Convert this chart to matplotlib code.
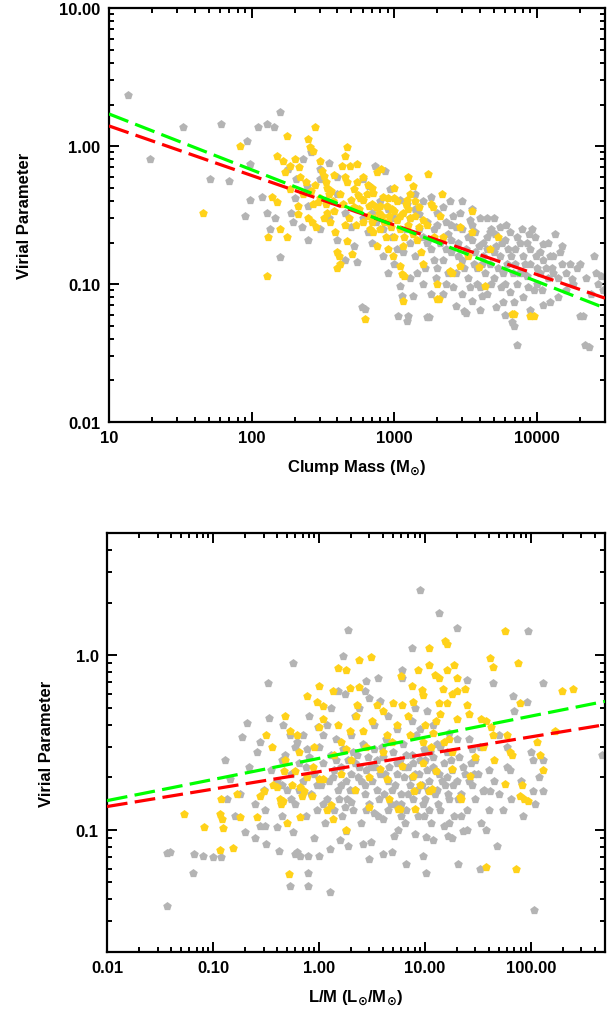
import numpy as np
import matplotlib
matplotlib.use("Agg")
import matplotlib.pyplot as plt
from matplotlib.ticker import FixedLocator, FixedFormatter, LogLocator, NullFormatter

plt.rcParams['font.family'] = ['Liberation Sans', 'DejaVu Sans']
plt.rcParams['font.weight'] = 'bold'
plt.rcParams['mathtext.default'] = 'bf'

# ---- top panel: clump mass vs virial parameter ----
top_gray = [(13.6, 2.34), (19.4, 0.80), (33, 1.37), (51, 0.58), (61, 1.44), (69, 0.56),
            (90, 0.31), (93, 1.09), (97, 0.74), (97, 0.41), (111, 1.37), (118, 0.43),
            (128, 1.44), (128, 0.33), (135, 0.25), (143, 1.37), (145, 0.30), (158, 1.76),
            (158, 0.157), (180, 0.68), (190, 0.33), (195, 0.28), (205, 0.58), (225, 0.26),
            (245, 0.51), (250, 0.21), (300, 0.68), (300, 0.58), (330, 0.41), (400, 0.21),
            (450, 0.15), (520, 0.19), (545, 0.145), (590, 0.068), (600, 0.58), (620, 0.066),
            (670, 0.51), (700, 0.20), (730, 0.72), (830, 0.25), (830, 0.16), (860, 0.66),
            (940, 0.49), (960, 0.22), (1050, 0.18), (1070, 0.059), (1100, 0.41), (1100, 0.097),
            (1130, 0.082), (1220, 0.054), (1250, 0.059), (1350, 0.082), (1220, 0.38), (1300, 0.30),
            (1400, 0.35), (1500, 0.25), (1700, 0.058), (1750, 0.058),
            (1300, 0.20), (1400, 0.16), (1450, 0.12), (1500, 0.32), (1600, 0.22), (1650, 0.13),
            (1700, 0.28), (1800, 0.43), (1800, 0.18), (1900, 0.25), (1950, 0.11), (2000, 0.33),
            (2100, 0.20), (2200, 0.085), (2200, 0.15), (2300, 0.28), (2400, 0.23), (2450, 0.40),
            (2500, 0.17), (2600, 0.31), (2700, 0.069), (2700, 0.12), (2800, 0.20), (2900, 0.33),
            (3000, 0.25), (3000, 0.15), (3100, 0.064), (3200, 0.062), (3200, 0.18), (3300, 0.11),
            (3400, 0.29), (3500, 0.21), (3600, 0.14), (3700, 0.24), (3800, 0.10), (3900, 0.19),
            (4000, 0.30), (4100, 0.082), (4200, 0.16), (4300, 0.12), (4500, 0.30), (4500, 0.22),
            (4700, 0.14), (4800, 0.25), (5000, 0.11), (5200, 0.068), (5200, 0.19), (5500, 0.26),
            (5500, 0.16), (5800, 0.074), (5800, 0.12), (6000, 0.21), (6200, 0.14), (6500, 0.24),
            (6500, 0.087), (6700, 0.053), (6900, 0.074), (6900, 0.050), (7000, 0.18), (7300, 0.22),
            (7300, 0.036), (7500, 0.12), (8000, 0.16), (8500, 0.114), (8500, 0.20), (9000, 0.14),
            (9300, 0.25), (9700, 0.22), (10000, 0.10), (10500, 0.17), (11000, 0.195), (11500, 0.13),
            (12300, 0.16), (12300, 0.074), (13000, 0.16), (13500, 0.23), (14000, 0.11), (15000, 0.14),
            (16000, 0.09), (17600, 0.108), (19000, 0.13), (20000, 0.059), (21000, 0.059),
            (21700, 0.036), (23000, 0.035), (25000, 0.16), (26000, 0.12), (28000, 0.114), (29000, 0.09),
            (2500, 0.27), (3500, 0.35), (1600, 0.40), (2000, 0.13), (2600, 0.095), (3000, 0.085),
            (4000, 0.095), (4500, 0.085), (5000, 0.30), (1200, 0.25), (1000, 0.30), (900, 0.35),
            (800, 0.40), (700, 0.33), (600, 0.30), (500, 0.26), (550, 0.35), (650, 0.24), (750, 0.28),
            (1000, 0.14), (900, 0.12), (1150, 0.17), (1300, 0.11), (1600, 0.10), (1800, 0.085),
            (2300, 0.10), (3500, 0.075), (4000, 0.065), (6000, 0.06), (8000, 0.08), (9000, 0.065),
            (11000, 0.07), (14000, 0.08), (15000, 0.19), (3000, 0.40), (2200, 0.36), (1400, 0.45),
            (400, 0.45), (350, 0.30), (250, 0.37), (200, 0.42), (300, 0.25), (450, 0.33), (230, 0.80),
            (260, 0.90), (400, 0.60), (350, 0.75),
            (5000, 0.17), (6000, 0.10), (7000, 0.14), (8000, 0.12), (9000, 0.18), (10000, 0.13),
            (11000, 0.15), (12000, 0.11), (13000, 0.12), (16000, 0.12), (18000, 0.10), (20000, 0.14),
            (22000, 0.11), (24000, 0.085), (2500, 0.21), (3500, 0.27), (4500, 0.18), (2000, 0.27),
            (1700, 0.20), (3800, 0.13), (4800, 0.10), (6300, 0.18), (7800, 0.25), (9500, 0.09),
            (10500, 0.12), (27000, 0.10),
            (2300, 0.18), (2800, 0.16), (3300, 0.22), (3700, 0.17), (4200, 0.20), (4700, 0.24),
            (5300, 0.13), (5700, 0.20), (6600, 0.16), (7200, 0.10), (7600, 0.20), (8300, 0.14),
            (8800, 0.23), (9800, 0.16), (10800, 0.09), (12700, 0.13), (14500, 0.17), (17000, 0.14),
            (2700, 0.26), (3100, 0.13), (4100, 0.14), (5100, 0.23), (6100, 0.27), (6800, 0.12),
            (1900, 0.15), (2400, 0.12), (3400, 0.095), (5600, 0.095), (8700, 0.095), (12000, 0.20)]

top_gold = [(46, 0.33), (83, 1.0), (128, 0.114), (130, 0.22), (140, 0.43), (150, 0.39),
            (150, 0.85), (158, 0.25), (165, 0.78), (172, 0.65), (178, 1.18), (178, 0.22), (185, 0.72),
            (187, 0.49), (200, 0.80), (210, 0.37), (210, 0.32), (215, 0.70), (220, 0.60), (250, 1.12),
            (258, 0.98), (250, 0.30), (265, 0.28), (270, 0.92), (278, 1.37), (285, 0.26), (290, 0.39),
            (300, 0.78), (310, 0.66), (320, 0.61), (330, 0.55), (340, 0.50), (340, 0.33), (355, 0.28),
            (360, 0.47), (385, 0.24), (400, 0.17), (400, 0.13), (410, 0.16), (420, 0.14), (430, 0.72),
            (450, 0.85), (465, 0.98), (465, 0.205), (470, 0.55), (490, 0.72), (505, 0.165), (520, 0.49),
            (550, 0.74), (560, 0.44), (570, 0.35), (600, 0.41), (620, 0.056), (640, 0.45), (650, 0.31),
            (700, 0.38), (710, 0.46), (710, 0.24), (720, 0.30), (760, 0.65), (760, 0.19), (780, 0.33),
            (810, 0.68), (830, 0.43), (850, 0.28), (890, 0.37), (920, 0.31), (950, 0.26), (980, 0.16),
            (1000, 0.34), (1050, 0.29), (1100, 0.135), (1100, 0.25), (1130, 0.118), (1150, 0.075),
            (1170, 0.114), (1200, 0.38), (1220, 0.41), (1250, 0.27), (1300, 0.45), (1350, 0.51),
            (1350, 0.23), (1400, 0.31), (1450, 0.21), (1500, 0.36), (1500, 0.26), (1550, 0.17),
            (1600, 0.14), (1600, 0.29), (1720, 0.63), (1800, 0.38), (1880, 0.36), (2000, 0.10),
            (2000, 0.078), (2050, 0.078), (2100, 0.31), (2160, 0.45), (2200, 0.22), (2450, 0.125),
            (2560, 0.12), (2900, 0.26), (2900, 0.135), (3300, 0.16), (3500, 0.34), (3500, 0.24),
            (3900, 0.133), (4300, 0.097), (4700, 0.18), (5300, 0.22), (6700, 0.061), (6900, 0.061),
            (8900, 0.059), (9500, 0.059),
            (240, 0.55), (260, 0.47), (280, 0.52), (300, 0.42), (330, 0.38), (370, 0.40), (380, 0.34),
            (420, 0.45), (440, 0.38), (480, 0.30), (520, 0.36), (540, 0.27), (580, 0.42), (600, 0.28),
            (660, 0.37), (680, 0.25), (740, 0.36), (800, 0.25), (820, 0.31), (880, 0.22), (900, 0.42),
            (960, 0.35), (1000, 0.22), (1050, 0.40), (1150, 0.33), (1180, 0.22), (1300, 0.30),
            (1400, 0.40), (1700, 0.27), (1900, 0.22), (1150, 0.19), (900, 0.18), (700, 0.50),
            (600, 0.60), (450, 0.60), (380, 0.62), (1000, 0.50), (1250, 0.60),
            (350, 0.45), (500, 0.41), (550, 0.55), (650, 0.52), (800, 0.37), (900, 0.28),
            (1000, 0.42), (1100, 0.31), (1250, 0.35), (450, 0.27), (700, 0.28), (230, 0.45),
            (270, 0.38), (320, 0.30)]

top_fit_x = [10, 30000]
top_fit_green = [1.71, 0.067]
top_fit_red = [1.40, 0.079]

# ---- bottom panel: L/M vs virial parameter ----
bot_gray = [(0.037, 0.0366), (0.037, 0.074), (0.039, 0.075), (0.065, 0.057), (0.066, 0.073),
            (0.08, 0.071), (0.10, 0.070), (0.135, 0.15), (0.13, 0.25), (0.145, 0.196), (0.19, 0.34),
            (0.20, 0.097), (0.21, 0.41), (0.26, 0.28), (0.28, 0.32), (0.31, 0.13), (0.31, 0.105),
            (0.32, 0.083), (0.33, 0.69), (0.34, 0.435), (0.40, 0.104), (0.42, 0.076), (0.46, 0.40),
            (0.48, 0.27), (0.53, 0.35), (0.53, 0.048), (0.57, 0.90), (0.57, 0.097), (0.60, 0.073),
            (0.62, 0.32), (0.62, 0.075), (0.66, 0.071), (0.77, 0.29), (0.79, 0.071), (0.79, 0.057),
            (0.79, 0.048), (0.98, 0.39), (1.0, 0.071), (1.1, 0.35), (1.27, 0.078),
            (1.27, 0.044), (1.5, 0.62), (1.58, 0.087), (1.7, 0.99), (1.75, 0.60),
            (1.87, 1.39), (1.87, 0.081), (2.6, 0.083), (2.7, 0.62), (2.8, 0.71), (3.0, 0.57),
            (3.0, 0.068), (3.6, 0.74), (4.0, 0.073), (4.9, 0.075), (6.1, 0.82),
            (6.1, 0.74), (6.6, 0.064), (7.6, 1.10), (9.0, 2.36), (9.6, 0.071), (10.2, 0.091),
            (10.2, 0.057), (13.7, 1.74), (16.5, 0.092), (20, 1.43), (20.6, 0.064),
            (23, 0.099), (25, 0.72), (33, 0.06), (35, 0.166), (38, 0.10), (41, 0.166), (44, 0.69),
            (48, 0.081), (59, 0.23), (64, 0.22), (68, 0.58), (70, 0.48), (92, 0.54),
            (94, 1.37), (104, 0.25), (104, 0.167), (107, 0.035), (130, 0.25), (130, 0.166), (130, 0.69),
            (470, 0.27),
            (0.35, 0.22), (0.4, 0.19), (0.45, 0.25), (0.5, 0.17), (0.55, 0.21), (0.6, 0.14), (0.65, 0.24),
            (0.7, 0.19), (0.75, 0.12), (0.8, 0.26), (0.85, 0.16), (0.9, 0.21), (0.95, 0.13), (1.0, 0.30),
            (1.05, 0.18), (1.1, 0.24), (1.15, 0.11), (1.2, 0.15), (1.3, 0.27), (1.35, 0.20), (1.4, 0.13),
            (1.45, 0.33), (1.5, 0.17), (1.6, 0.23), (1.65, 0.12), (1.7, 0.29), (1.8, 0.19), (1.85, 0.15),
            (1.9, 0.25), (2.0, 0.21), (2.0, 0.35), (2.1, 0.13), (2.2, 0.17), (2.3, 0.27), (2.4, 0.23),
            (2.5, 0.19), (2.5, 0.11), (2.6, 0.31), (2.7, 0.16), (2.8, 0.22), (2.9, 0.26), (3.0, 0.14),
            (3.2, 0.19), (3.3, 0.29), (3.4, 0.23), (3.5, 0.17), (3.6, 0.12), (3.8, 0.21), (4.0, 0.26),
            (4.1, 0.16), (4.3, 0.33), (4.5, 0.19), (4.6, 0.23), (4.8, 0.14), (5.0, 0.28), (5.2, 0.18),
            (5.4, 0.21), (5.6, 0.10), (5.8, 0.25), (6.0, 0.16), (6.2, 0.31), (6.4, 0.20), (6.7, 0.13),
            (7.0, 0.23), (7.2, 0.18), (7.5, 0.27), (7.8, 0.15), (8.0, 0.21), (8.3, 0.35), (8.6, 0.12),
            (9.0, 0.25), (9.3, 0.18), (9.7, 0.29), (10, 0.15), (10.5, 0.22), (11, 0.19), (11.5, 0.11),
            (12, 0.26), (12.5, 0.16), (13, 0.31), (13.5, 0.21), (14, 0.13), (15, 0.24), (15.5, 0.18),
            (16, 0.28), (17, 0.15), (18, 0.22), (19, 0.12), (20, 0.19), (21, 0.26), (22, 0.16),
            (24, 0.21), (25, 0.13), (27, 0.24), (28, 0.18), (30, 0.15), (32, 0.21), (34, 0.11),
            (36, 0.17), (40, 0.13), (45, 0.19), (0.25, 0.14), (0.3, 0.17), (0.22, 0.23), (0.18, 0.16),
            (0.16, 0.12), (0.28, 0.105), (1.2, 0.40), (2.2, 0.45), (3.3, 0.40), (5.5, 0.38), (7.5, 0.42),
            (12, 0.40), (17, 0.36), (26, 0.33), (33, 0.30), (3.1, 0.085), (5.1, 0.092), (8.0, 0.095),
            (12, 0.088), (18, 0.09), (1.8, 0.098), (0.9, 0.09), (0.45, 0.12), (2.0, 0.145), (4.0, 0.115),
            (6.5, 0.11), (15, 0.105), (25, 0.10), (2.4, 0.50), (1.3, 0.50), (0.8, 0.45), (3.8, 0.55),
            (8, 0.50), (4.5, 0.45), (10.5, 0.48), (50, 0.35), (60, 0.30), (55, 0.13), (80, 0.19),
            (85, 0.12), (110, 0.14), (120, 0.20), (0.12, 0.07), (0.25, 0.09), (0.6, 0.30), (0.7, 0.35),
            (9, 0.38), (14, 0.30), (20, 0.33), (30, 0.25), (40, 0.22), (28, 0.29), (50, 0.16), (65, 0.15),
            (100, 0.28), (1.1, 0.14), (1.6, 0.18), (2.8, 0.13), (4.5, 0.13), (6, 0.14), (8.5, 0.17),
            (11, 0.13), (13, 0.17), (16, 0.20), (22, 0.12), (3.5, 0.25), (5.5, 0.24), (7.5, 0.20),
            (10, 0.25), (12.5, 0.22), (2.2, 0.24), (1.4, 0.22), (0.75, 0.23), (0.45, 0.18), (0.55, 0.15),
            (1.25, 0.19), (1.55, 0.15), (1.95, 0.17), (2.35, 0.20), (2.75, 0.18), (3.1, 0.23),
            (3.7, 0.15), (4.2, 0.21), (4.9, 0.17), (5.3, 0.14), (6.3, 0.23), (6.9, 0.16), (7.7, 0.24),
            (8.8, 0.21), (9.5, 0.14), (10.8, 0.17), (11.8, 0.23), (13.2, 0.14), (14.5, 0.19),
            (16.5, 0.16), (18.5, 0.18), (20.5, 0.15), (23, 0.23), (26, 0.19), (29, 0.21), (2.1, 0.28),
            (3.9, 0.30), (6.6, 0.27), (11.2, 0.28), (17.5, 0.25), (1.45, 0.25), (0.95, 0.18),
            (0.65, 0.17), (1.75, 0.135), (3.3, 0.125), (5.9, 0.12), (9.9, 0.12), (17, 0.11)]

bot_gold = [(0.053, 0.124), (0.082, 0.104), (0.117, 0.124), (0.12, 0.15), (0.122, 0.115),
            (0.125, 0.103), (0.117, 0.077), (0.154, 0.079), (0.17, 0.16), (0.18, 0.119), (0.26, 0.118),
            (0.28, 0.157), (0.30, 0.166), (0.32, 0.35), (0.36, 0.30), (0.37, 0.18), (0.40, 0.177),
            (0.43, 0.15), (0.44, 0.14), (0.46, 0.147), (0.47, 0.218), (0.48, 0.45), (0.48, 0.25),
            (0.50, 0.11), (0.52, 0.056), (0.53, 0.37), (0.56, 0.18), (0.60, 0.218), (0.62, 0.35),
            (0.66, 0.119), (0.66, 0.177), (0.69, 0.157), (0.72, 0.166), (0.77, 0.58), (0.77, 0.20),
            (0.86, 0.157), (0.88, 0.23), (0.95, 0.54), (1.0, 0.67), (1.0, 0.196), (1.0, 0.39),
            (1.1, 0.51), (1.1, 0.43), (1.1, 0.196), (1.2, 0.13), (1.3, 0.138), (1.35, 0.62),
            (1.35, 0.116), (1.5, 0.84), (1.5, 0.40), (1.6, 0.32), (1.8, 0.82), (1.8, 0.29), (1.8, 0.10),
            (1.95, 0.65), (1.95, 0.37), (2.25, 0.45), (2.3, 0.52), (2.4, 0.94), (2.4, 0.66), (2.6, 0.37),
            (2.8, 0.30), (3.0, 0.135), (3.1, 0.98), (3.5, 0.52), (4.0, 0.48), (4.4, 0.196), (4.4, 0.35),
            (4.9, 0.32), (5.0, 0.53), (5.6, 0.132), (6.0, 0.76), (6.1, 0.52), (7.2, 0.35), (7.6, 0.67),
            (7.7, 0.54), (7.9, 0.166), (8.6, 0.82), (9.4, 0.63), (9.6, 0.59), (9.6, 0.32), (11, 1.10),
            (11, 0.88), (11.5, 0.30), (11.6, 0.172), (12.4, 0.77), (12.6, 0.42), (13.7, 0.74),
            (13.7, 0.53), (14.8, 0.64), (15, 0.32), (15.5, 1.2), (16, 1.16), (16, 0.82), (16, 0.53),
            (17, 0.33), (18, 0.60), (19, 0.88), (20, 0.74), (20, 0.62), (20, 0.43), (22, 0.15),
            (24, 0.64), (25, 0.52), (26, 0.46), (34, 0.43), (38, 0.42), (38, 0.061), (42, 0.39),
            (44, 0.35), (41, 0.96), (44, 0.86), (57, 1.37), (57, 0.184), (59, 0.35), (64, 0.28),
            (67, 0.27), (73, 0.06), (75, 0.90), (79, 0.53), (79, 0.157), (82, 0.18), (86, 0.15),
            (94, 0.147), (115, 0.32), (121, 0.27), (130, 0.22), (170, 0.37), (195, 0.62), (250, 0.64),
            (3.8, 0.224), (6.1, 0.233), (7.7, 0.204), (9.6, 0.24), (12.6, 0.216), (17.9, 0.224),
            (21.4, 0.155), (26.8, 0.204), (11, 0.166), (9, 0.18), (5.8, 0.132), (4.6, 0.15), (8.0, 0.132),
            (2.0, 0.25), (3.2, 0.42), (1.4, 0.27), (0.9, 0.30), (5.5, 0.40), (7, 0.45), (10, 0.40),
            (12, 0.36), (14, 0.46), (18, 0.28), (30, 0.26), (35, 0.30), (45, 0.25), (3, 0.20),
            (2.2, 0.17), (1.6, 0.21), (0.65, 0.28), (4, 0.28)]

bot_fit_x = [0.01, 500]
bot_fit_green = [0.147, 0.544]
bot_fit_red = [0.136, 0.40]

GRAY = '#b4b4b4'
GOLD = '#ffd21a'


def style_axes(ax):
    for s in ax.spines.values():
        s.set_linewidth(1.6)
    ax.tick_params(which='both', direction='in', top=True, right=True, width=1.4,
                   labelsize=12, pad=6)
    ax.tick_params(which='major', length=7)
    ax.tick_params(which='minor', length=3.5)


def panel(ax, gray, gold, fx, fg, fr):
    gx, gy = zip(*gray)
    ax.scatter(gx, gy, s=42, marker='p', color=GRAY, linewidths=0, zorder=2)
    ox, oy = zip(*gold)
    ax.scatter(ox, oy, s=42, marker='p', color=GOLD, linewidths=0, zorder=3)
    ax.plot(fx, fr, color='#ff0000', lw=2.3, dashes=(6.5, 2.3), zorder=4)
    ax.plot(fx, fg, color='#00ff00', lw=2.3, dashes=(6.5, 2.3), zorder=4)
    ax.set_xscale('log')
    ax.set_yscale('log')


fig = plt.figure(figsize=(6.12, 10.12), dpi=100)

ax1 = fig.add_axes([0.178, 0.582, 0.8105, 0.409])
panel(ax1, top_gray, top_gold, top_fit_x, top_fit_green, top_fit_red)
ax1.set_xlim(10, 30000)
ax1.set_ylim(0.01, 10)
ax1.xaxis.set_major_locator(FixedLocator([10, 100, 1000, 10000]))
ax1.xaxis.set_major_formatter(FixedFormatter(['10', '100', '1000', '10000']))
ax1.yaxis.set_major_locator(FixedLocator([0.01, 0.1, 1, 10]))
ax1.yaxis.set_major_formatter(FixedFormatter(['0.01', '0.10', '1.00', '10.00']))
for a in (ax1.xaxis, ax1.yaxis):
    a.set_minor_locator(LogLocator(base=10, subs=np.arange(2, 10), numticks=20))
    a.set_minor_formatter(NullFormatter())
style_axes(ax1)
ax1.set_xlabel(r'Clump Mass (M$_{\odot}$)', fontsize=12, fontweight='bold')
ax1.set_ylabel('Virial Parameter', fontsize=12, fontweight='bold')
ax1.xaxis.set_label_coords(0.5, -0.085)
ax1.yaxis.set_label_coords(-0.155, 0.5)

ax2 = fig.add_axes([0.1748, 0.0583, 0.8137, 0.414])
panel(ax2, bot_gray, bot_gold, bot_fit_x, bot_fit_green, bot_fit_red)
ax2.set_xlim(0.01, 500)
ax2.set_ylim(0.02, 5)
ax2.xaxis.set_major_locator(FixedLocator([0.01, 0.1, 1, 10, 100]))
ax2.xaxis.set_major_formatter(FixedFormatter(['0.01', '0.10', '1.00', '10.00', '100.00']))
ax2.yaxis.set_major_locator(FixedLocator([0.1, 1]))
ax2.yaxis.set_major_formatter(FixedFormatter(['0.1', '1.0']))
for a in (ax2.xaxis, ax2.yaxis):
    a.set_minor_locator(LogLocator(base=10, subs=np.arange(2, 10), numticks=20))
    a.set_minor_formatter(NullFormatter())
style_axes(ax2)
ax2.set_xlabel(r'L/M (L$_{\odot}$/M$_{\odot}$)', fontsize=12, fontweight='bold')
ax2.set_ylabel('Virial Parameter', fontsize=12, fontweight='bold')
ax2.xaxis.set_label_coords(0.5, -0.085)
ax2.yaxis.set_label_coords(-0.106, 0.5)

fig.savefig('out.png', dpi=100)
